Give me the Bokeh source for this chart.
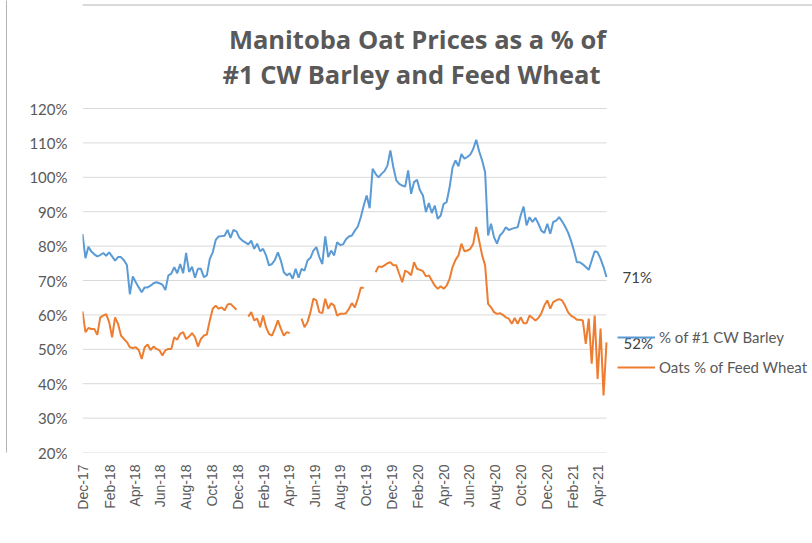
import numpy as np
import pandas as pd
from bokeh.plotting import figure
from bokeh.models import (Range1d, FixedTicker, Legend, LegendItem, Label, Span, LinearAxis)
from bokeh.embed import file_html
from bokeh.resources import INLINE

nan = float("nan")

title_lines = ["Manitoba Oat Prices as a % of", "#1 CW Barley and Feed Wheat"]
series_names = ["% of #1 CW Barley", "Oats % of Feed Wheat"]

x_tick_labels = ["Dec-17", "Feb-18", "Apr-18", "Jun-18", "Aug-18", "Oct-18", "Dec-18",
                 "Feb-19", "Apr-19", "Jun-19", "Aug-19", "Oct-19", "Dec-19", "Feb-20",
                 "Apr-20", "Jun-20", "Aug-20", "Oct-20", "Dec-20", "Feb-21", "Apr-21"]
y_ticks = [20, 30, 40, 50, 60, 70, 80, 90, 100, 110, 120]
y_tick_labels = ["20%", "30%", "40%", "50%", "60%", "70%", "80%", "90%", "100%", "110%", "120%"]

# weekly values, % (oat price relative to #1 CW barley)
barley_pct = [
    83.5, 76.5, 79.8, 78.4, 77.6, 77.0, 77.4, 78.0, 77.2, 78.2,
    77.0, 75.8, 76.8, 76.8, 75.9, 74.5, 66.0, 71.2, 69.5, 68.0,
    66.6, 68.0, 68.0, 68.5, 69.2, 69.5, 69.2, 68.8, 67.2, 71.5,
    72.0, 73.9, 72.1, 74.8, 72.1, 78.0, 72.5, 74.0, 70.8, 73.4,
    73.4, 71.0, 71.5, 76.3, 78.2, 81.8, 82.8, 82.9, 83.0, 84.7,
    82.4, 84.7, 84.3, 82.4, 81.6, 81.1, 80.5, 81.6, 79.2, 80.7,
    78.5, 79.2, 77.3, 74.4, 74.8, 76.0, 78.2, 75.8, 72.4, 71.5,
    72.1, 70.5, 73.4, 70.8, 73.4, 72.9, 75.8, 76.6, 78.7, 79.7,
    76.8, 74.8, 82.8, 76.8, 78.7, 77.3, 81.1, 80.3, 80.5, 82.0,
    82.8, 83.1, 84.5, 85.7, 88.4, 91.8, 94.7, 91.0, 102.5, 101.0,
    100.0, 101.0, 101.8, 103.4, 107.8, 102.9, 99.1, 98.1, 97.6, 97.3,
    102.0, 95.2, 98.6, 99.3, 96.2, 94.7, 89.9, 92.5, 89.6, 91.8,
    87.9, 88.9, 92.3, 92.8, 97.1, 102.9, 104.9, 103.2, 106.8, 105.4,
    105.9, 106.6, 108.3, 110.9, 107.5, 104.9, 101.5, 83.1, 86.5, 82.6,
    80.7, 83.1, 84.0, 85.5, 84.7, 85.0, 85.3, 85.5, 88.9, 91.5,
    86.0, 88.4, 87.0, 88.2, 86.5, 84.5, 83.8, 86.5, 83.6, 87.0,
    87.4, 88.4, 87.2, 85.7, 84.0, 81.6, 78.7, 75.3, 75.3, 74.7,
    73.9, 73.1, 75.8, 78.5, 78.2, 76.3, 73.9, 71.0,
]

# weekly values, % (oat price relative to feed wheat); nan = no quote
wheat_pct = [
    61.0, 55.0, 56.2, 55.9, 55.9, 54.2, 59.3, 59.8, 60.2, 57.9,
    53.5, 59.3, 57.4, 54.0, 53.0, 52.1, 50.6, 50.4, 50.6, 49.8,
    47.2, 50.6, 51.4, 49.8, 50.8, 50.1, 49.7, 48.2, 49.7, 50.1,
    50.1, 53.5, 52.8, 54.5, 55.0, 53.0, 53.7, 54.7, 53.5, 50.8,
    53.0, 54.0, 54.3, 58.4, 61.8, 62.7, 61.8, 62.2, 61.3, 63.0,
    63.2, 62.4, 61.5, nan, nan, nan, 59.5, 60.8, 58.4, 58.9,
    56.4, 59.8, 56.4, 54.5, 54.0, 56.0, 58.4, 56.0, 54.0, 55.0,
    54.7, nan, nan, nan, 58.9, 56.4, 57.9, 60.8, 64.7, 64.2,
    60.8, 60.5, 64.7, 61.8, 63.4, 62.7, 59.8, 60.3, 60.3, 60.5,
    61.8, 63.4, 62.2, 64.7, 67.9, 67.9, nan, nan, nan, 72.4,
    74.1, 73.9, 74.4, 75.0, 75.3, 74.4, 74.4, 71.9, 69.5, 72.9,
    72.4, 71.5, 75.3, 73.4, 73.1, 72.7, 71.2, 71.5, 70.0, 68.5,
    67.6, 68.3, 67.6, 68.5, 70.5, 73.9, 76.0, 77.3, 80.7, 78.5,
    78.7, 79.2, 80.7, 85.6, 81.5, 77.3, 74.4, 63.2, 62.2, 60.8,
    60.3, 60.5, 60.0, 59.3, 58.9, 57.4, 59.1, 57.4, 59.3, 57.6,
    57.6, 59.8, 59.1, 58.4, 59.1, 60.5, 62.7, 64.2, 61.8, 63.7,
    64.2, 64.6, 64.2, 62.7, 60.8, 59.8, 59.3, 58.6, 58.6, 58.4,
    51.6, 58.9, 45.8, 59.8, 41.4, 56.0, 36.6, 52.0,
]

start = pd.Timestamp("2017-11-29")
dates = pd.date_range(start, periods=len(barley_pct), freq="7D")
x = np.array([(d - start).days for d in dates], dtype=float)
tick_dates = pd.date_range("2017-12-01", periods=len(x_tick_labels), freq="2MS")
tick_x = [int((d - start).days) for d in tick_dates]

# canvas == page (template has no body margin)
W, H = 812, 543
FL, FB = 82, 452          # frame left / bottom (px); frame reaches canvas top and right
PLOT_W, PLOT_H = 524, 344  # width of the data area, height of 20%..120%
x_end = float(x[-1])
Y0, Y1 = 20, 120
px_per_day = PLOT_W / x_end
px_per_unit = PLOT_H / (Y1 - Y0)

def page_to_x(px):
    return (px - FL) / px_per_day

def page_to_y(py):
    return Y0 + (FB - py) / px_per_unit

p = figure(width=W, height=H, title=None,
           x_range=Range1d(0, page_to_x(W)), y_range=Range1d(Y0, page_to_y(0)),
           output_backend="svg", toolbar_location=None,
           min_border_left=FL, min_border_right=0,
           min_border_top=0, min_border_bottom=H - FB,
           background_fill_color="white", border_fill_color="white",
           outline_line_color=None)

BLUE = "#5B9BD5"
ORANGE = "#ED7D31"
GRAY = "#595959"
GRID = "#D9D9D9"
BORDER = "#B4B4B4"

# horizontal gridlines limited to the data area
p.segment(x0=[0] * len(y_ticks), x1=[x_end] * len(y_ticks), y0=y_ticks, y1=y_ticks,
          line_color=GRID, line_width=1)

r1 = p.line(x, np.array(barley_pct), line_color=BLUE, line_width=2)
r2 = p.line(x, np.array(wheat_pct), line_color=ORANGE, line_width=2)

# axes
p.yaxis.ticker = FixedTicker(ticks=y_ticks)
p.yaxis.major_label_overrides = {t: l for t, l in zip(y_ticks, y_tick_labels)}
p.yaxis.axis_line_color = None
p.yaxis.major_tick_line_color = None
p.yaxis.minor_tick_line_color = None
p.yaxis.major_tick_in = 0
p.yaxis.major_tick_out = 0
p.yaxis.major_label_standoff = 15
p.yaxis.major_label_text_font = "Lato"
p.yaxis.major_label_text_font_size = "15px"
p.yaxis.major_label_text_color = GRAY
# blank axis label used as spacer so that the border axis sits at the chart's left edge
p.yaxis.axis_label = " "
p.yaxis.axis_label_text_font_size = "10px"
p.yaxis.axis_label_standoff = 6

# outer left axis: only its line, drawn as the chart's left border
border_axis = LinearAxis(ticker=FixedTicker(ticks=[]), axis_line_color=BORDER,
                         major_tick_line_color=None, minor_tick_line_color=None,
                         major_tick_in=0, major_tick_out=0, major_label_standoff=0,
                         major_label_text_font_size="0px")
p.add_layout(border_axis, "left")

p.xaxis.ticker = FixedTicker(ticks=tick_x)
p.xaxis.major_label_overrides = {t: l for t, l in zip(tick_x, x_tick_labels)}
p.xaxis.major_label_orientation = np.pi / 2
p.xaxis.axis_line_color = None
p.xaxis.major_tick_line_color = None
p.xaxis.minor_tick_line_color = None
p.xaxis.major_tick_in = 0
p.xaxis.major_tick_out = 0
p.xaxis.major_label_standoff = 12
p.xaxis.major_label_text_font = "Liberation Sans"
p.xaxis.major_label_text_font_size = "14px"
p.xaxis.major_label_text_color = GRAY

p.xgrid.grid_line_color = None
p.ygrid.grid_line_color = None

# title
for text, cx, cy in [(title_lines[0], 417, 38.5), (title_lines[1], 411, 73)]:
    p.add_layout(Label(x=page_to_x(cx), y=page_to_y(cy), text=text,
                       text_align="center", text_baseline="middle",
                       text_font="Open Sans", text_font_size="25.5px",
                       text_font_style="bold", text_color=GRAY))

# end-of-series labels
p.add_layout(Label(x=x[-1], y=barley_pct[-1], text="%d%%" % round(barley_pct[-1]),
                   x_offset=16, y_offset=0, text_baseline="middle",
                   text_font="Lato", text_font_size="15px", text_color="#404040"))
p.add_layout(Label(x=x[-1], y=wheat_pct[-1], text="%d%%" % round(wheat_pct[-1]),
                   x_offset=17, y_offset=-1, text_baseline="middle",
                   text_font="Lato", text_font_size="15px", text_color="#404040"))

legend = Legend(items=[LegendItem(label=series_names[0], renderers=[r1]),
                       LegendItem(label=series_names[1], renderers=[r2])],
                location=(535, 75.5), orientation="vertical",
                padding=0, margin=0, spacing=10,
                glyph_width=38, glyph_height=20, label_height=20, label_standoff=4,
                border_line_color=None, background_fill_alpha=0,
                label_text_font="Lato", label_text_font_size="15px",
                label_text_color=GRAY)
p.add_layout(legend)

# chart border (top edge)
p.add_layout(Span(location=page_to_y(4.5), dimension="width",
                  line_color=BORDER, line_width=1))

open("out.html", "w").write(file_html(p, INLINE))
